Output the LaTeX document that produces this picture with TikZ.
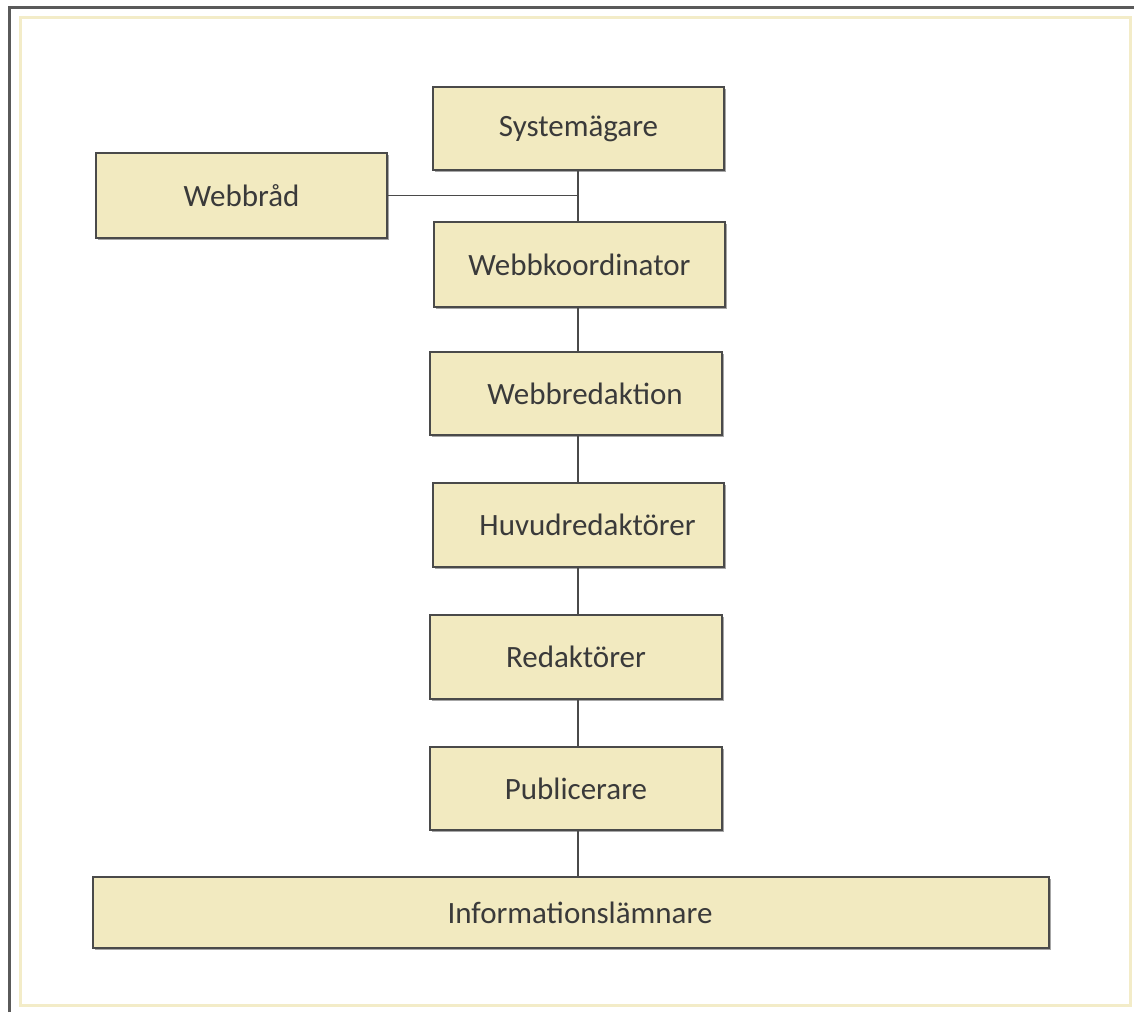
\documentclass[tikz,border=0pt]{standalone}
\usepackage{fontspec}
\setmainfont{Carlito}
\usetikzlibrary{shadows}
\definecolor{boxfill}{HTML}{F2EAC0}
\definecolor{boxline}{HTML}{4A4A4A}
\definecolor{txt}{HTML}{3A3A3A}
\definecolor{framey}{HTML}{F3ECC8}
\definecolor{framed}{HTML}{5A5A5A}
\tikzset{
  orgbox/.style={draw=boxline, fill=boxfill, line width=2pt, inner sep=0pt, outer sep=0pt,
    text=txt, font=\fontsize{31}{37}\selectfont,
    drop shadow={shadow xshift=2pt, shadow yshift=-2pt, opacity=0.35, fill=black}},
  conn/.style={draw=boxline, line width=1.8pt}
}
\begin{document}
\begin{tikzpicture}[x=1pt,y=-1pt]
\useasboundingbox (0,0) rectangle (1134,1012);
\fill[white] (0,0) rectangle (1134,1012);
% frames
\draw[framed, line width=3pt] (9,1012) -- (9,7) -- (1134,7);
\draw[framey, line width=3pt] (20,17) rectangle (1130,1005);
% boxes
\node[orgbox, minimum width=291pt, minimum height=83pt] (sys) at (578.5,128.5) {Systemägare};
\node[orgbox, minimum width=291pt, minimum height=85pt] (wk) at (579.5,264.5) {Webbkoordinator};
\node[orgbox, minimum width=291pt, minimum height=85pt] (wrad) at (241.5,195.5) {Webbråd};
\node[orgbox, minimum width=292pt, minimum height=83pt] (wred) at (576,393.5) {\hspace{18pt}Webbredaktion};
\node[orgbox, minimum width=291pt, minimum height=84pt] (huv) at (578.5,525) {\hspace{18pt}Huvudredaktörer};
\node[orgbox, minimum width=292pt, minimum height=84pt] (red) at (576,657) {Redaktörer};
\node[orgbox, minimum width=292pt, minimum height=83pt] (pub) at (576,788.5) {Publicerare};
\node[orgbox, minimum width=956pt, minimum height=71pt] (info) at (571,912.5) {\hspace{18pt}Informationslämnare};
% connectors
\coordinate (jx) at (578,195.5);
\draw[conn] (sys.south -| jx) -- (wk.north -| jx);
\draw[conn] (wrad.east) -- (jx);
\draw[conn] (wk.south -| jx) -- (wred.north -| jx);
\draw[conn] (wred.south -| jx) -- (huv.north -| jx);
\draw[conn] (huv.south -| jx) -- (red.north -| jx);
\draw[conn] (red.south -| jx) -- (pub.north -| jx);
\draw[conn] (pub.south -| jx) -- (info.north -| jx);
\end{tikzpicture}
\end{document}
